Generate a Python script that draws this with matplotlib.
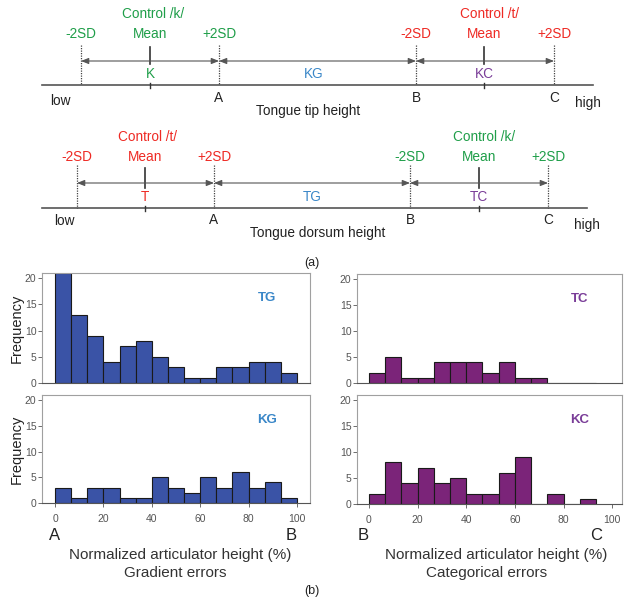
import matplotlib
matplotlib.use("Agg")
import matplotlib.pyplot as plt
import numpy as np

plt.rcParams['font.family'] = ['Liberation Sans', 'DejaVu Sans']

# ---------------- data ----------------
grad_bin_width = 100 / 15
grad_bin_starts = [i * grad_bin_width for i in range(15)]
tg_counts = [21, 13, 9, 4, 7, 8, 5, 3, 1, 1, 3, 3, 4, 4, 2]
kg_counts = [3, 1, 3, 3, 1, 1, 5, 3, 2, 5, 3, 6, 3, 4, 1]

cat_bin_starts = [i * grad_bin_width for i in range(14)]
tc_counts = [2, 5, 1, 1, 4, 4, 4, 2, 4, 1, 1, 0, 0, 0]
kc_counts = [2, 8, 4, 7, 4, 5, 2, 2, 6, 9, 0, 2, 0, 1]

y_ticks = [0, 5, 10, 15, 20]
x_ticks = [0, 20, 40, 60, 80, 100]

GREEN = '#1f9e49'
RED = '#ee2a24'
BLUE_T = '#3a87c8'
PURPLE_T = '#7a3d98'
BLUE_BAR = '#3a53a6'
PURPLE_BAR = '#7b2479'

W, H = 624, 605
fig = plt.figure(figsize=(W / 100, H / 100), dpi=100)

# ---------------- schematic diagrams (pixel coordinate overlay) ----------------
ax0 = fig.add_axes([0, 0, 1, 1])
ax0.set_xlim(0, W)
ax0.set_ylim(H, 0)
ax0.axis('off')

FS = 9.8

def diagram(base_y, arrow_y, dot_top, mean_top, mean_bot, xs, means,
            left_col, right_col, left_ctrl, right_ctrl, mid_lab, left_lab, right_lab,
            title, title_x, base_end, ctrl_y, sd_y, lab_y, abc_y):
    x1, x2, x3, x4 = xs
    ax0.plot([42, base_end], [base_y, base_y], color='#555555', lw=1.2)
    for x in xs:
        ax0.plot([x, x], [dot_top, base_y], color='#444444', lw=0.9, ls=(0, (1, 1)))
    for a, b in [(x1, x2), (x2, x3), (x3, x4)]:
        ax0.annotate('', xy=(a, arrow_y), xytext=(b, arrow_y),
                     arrowprops=dict(arrowstyle='<|-|>,head_length=0.45,head_width=0.18',
                                     color='#555555', lw=0.8, shrinkA=0, shrinkB=0))
    for m in means:
        ax0.plot([m, m], [mean_top, mean_bot], color='#333333', lw=1.2)
        ax0.plot([m, m], [base_y - 2, base_y + 3], color='#333333', lw=1.0)
    ax0.text(x1, sd_y, '-2SD', color=left_col, fontsize=FS, ha='center', va='center')
    ax0.text(x2, sd_y, '+2SD', color=left_col, fontsize=FS, ha='center', va='center')
    ax0.text(means[0], sd_y, 'Mean', color=left_col, fontsize=FS, ha='center', va='center')
    ax0.text(means[0] + 3, ctrl_y, left_ctrl, color=left_col, fontsize=FS, ha='center', va='center')
    ax0.text(x3, sd_y, '-2SD', color=right_col, fontsize=FS, ha='center', va='center')
    ax0.text(x4, sd_y, '+2SD', color=right_col, fontsize=FS, ha='center', va='center')
    ax0.text(means[1], sd_y, 'Mean', color=right_col, fontsize=FS, ha='center', va='center')
    ax0.text(means[1] + 5, ctrl_y, right_ctrl, color=right_col, fontsize=FS, ha='center', va='center')
    ax0.text(means[0], lab_y, left_lab, color=left_col, fontsize=FS, ha='center', va='center')
    ax0.text(mid_lab[1], lab_y, mid_lab[0], color=BLUE_T, fontsize=FS, ha='center', va='center')
    ax0.text(means[1], lab_y, right_lab, color=PURPLE_T, fontsize=FS, ha='center', va='center')
    for x, s in zip([x2, x3, x4], ['A', 'B', 'C']):
        ax0.text(x, abc_y, s, color='#222222', fontsize=FS, ha='center', va='center')
    ax0.text(title_x, abc_y + 13, title, color='#222222', fontsize=FS, ha='center', va='center')

diag1_sd = [81, 219, 416, 554]
diag1_means = [150, 484]
diagram(85, 61, 45, 47, 64, diag1_sd, diag1_means, GREEN, RED,
        'Control /k/', 'Control /t/', ('KG', 314), 'K', 'KC',
        'Tongue tip height', 308, 593, 14, 34, 74, 98)
ax0.text(60, 101, 'low', fontsize=FS, color='#222222', ha='center', va='center')
ax0.text(588, 103, 'high', fontsize=FS, color='#222222', ha='center', va='center')

diag2_sd = [77, 214, 410, 548]
diag2_means = [145, 479]
diagram(208, 183, 165, 168, 188, diag2_sd, diag2_means, RED, GREEN,
        'Control /t/', 'Control /k/', ('TG', 312), 'T', 'TC',
        'Tongue dorsum height', 318, 587, 137, 157, 197, 220)
ax0.text(64, 221, 'low', fontsize=FS, color='#222222', ha='center', va='center')
ax0.text(587, 225, 'high', fontsize=FS, color='#222222', ha='center', va='center')

ax0.text(312, 263, '(a)', fontsize=9, color='#222222', ha='center', va='center')
ax0.text(312, 591, '(b)', fontsize=9, color='#222222', ha='center', va='center')

# ---------------- histograms ----------------
def px_axes(left, top, right, bottom):
    return fig.add_axes([left / W, 1 - bottom / H, (right - left) / W, (bottom - top) / H])

def style(ax, xlim, show_x):
    ax.set_ylim(0, 21)
    ax.set_xlim(*xlim)
    ax.set_yticks(y_ticks)
    ax.set_xticks(x_ticks)
    for sp in ax.spines.values():
        sp.set_color('#a0a0a0')
        sp.set_linewidth(0.8)
    ax.spines['bottom'].set_color('#555555')
    ax.tick_params(axis='y', length=3, width=0.6, colors='#555555', labelsize=7.5, pad=1)
    ax.tick_params(axis='x', length=3, width=0.6, colors='#555555', labelsize=7.5, pad=5)
    if not show_x:
        ax.tick_params(axis='x', length=0, labelbottom=False)

def hist(ax, starts, counts, color, label, label_col):
    ax.bar(starts, counts, width=grad_bin_width, align='edge', color=color,
           edgecolor='#1a1a1a', linewidth=0.8)
    ax.text(0.84, 0.77, label, transform=ax.transAxes, color=label_col,
            fontsize=9.5, fontweight='bold', ha='center', va='center')

ax_tg = px_axes(42, 273, 310, 383)
hist(ax_tg, grad_bin_starts, tg_counts, BLUE_BAR, 'TG', BLUE_T)
style(ax_tg, (-5.4, 105.4), False)

ax_kg = px_axes(42, 395, 310, 503)
hist(ax_kg, grad_bin_starts, kg_counts, BLUE_BAR, 'KG', BLUE_T)
style(ax_kg, (-5.4, 105.4), True)

ax_tc = px_axes(357, 274, 622, 383)
hist(ax_tc, cat_bin_starts, tc_counts, PURPLE_BAR, 'TC', PURPLE_T)
style(ax_tc, (-4.9, 104), False)

ax_kc = px_axes(357, 395, 622, 504)
hist(ax_kc, cat_bin_starts, kc_counts, PURPLE_BAR, 'KC', PURPLE_T)
style(ax_kc, (-4.9, 104), True)

for ax in (ax_tg, ax_kg):
    ax.set_ylabel('Frequency', fontsize=10.5, color='#222222', labelpad=1)

ax0.set_zorder(0)
for ax in (ax_tg, ax_kg, ax_tc, ax_kc):
    ax.set_zorder(1)

# bottom labels
ax0.text(55, 536, 'A', fontsize=12, color='#222222', ha='center', va='center')
ax0.text(291, 536, 'B', fontsize=12, color='#222222', ha='center', va='center')
ax0.text(180, 555, 'Normalized articulator height (%)', fontsize=11, color='#333333', ha='center', va='center')
ax0.text(175, 573, 'Gradient errors', fontsize=11, color='#333333', ha='center', va='center')
ax0.text(363, 536, 'B', fontsize=12, color='#222222', ha='center', va='center')
ax0.text(596, 536, 'C', fontsize=12, color='#222222', ha='center', va='center')
ax0.text(496, 555, 'Normalized articulator height (%)', fontsize=11, color='#333333', ha='center', va='center')
ax0.text(487, 573, 'Categorical errors', fontsize=11, color='#333333', ha='center', va='center')

fig.savefig('out.png', dpi=100)
